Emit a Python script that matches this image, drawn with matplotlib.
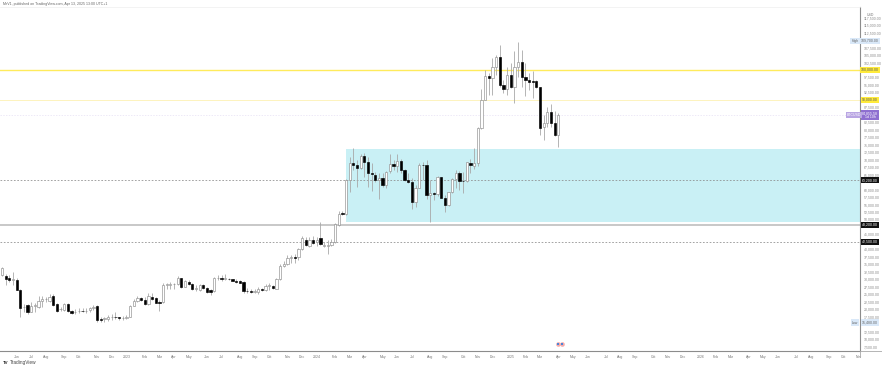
import matplotlib
matplotlib.use("Agg")
import matplotlib.pyplot as plt
import numpy as np
import pandas as pd
from matplotlib.lines import Line2D
from matplotlib.transforms import blended_transform_factory

plt.rcParams['font.family'] = ['Liberation Sans', 'DejaVu Sans']

# weekly OHLC in thousands of USD
opens = [31.5,31.2,30.3,29.7,29.9,26.5,20.6,21.4,19.2,21.2,20.6,22.9,23.3,22.8,24.5,21.6,19.9,19.6,21.9,19.4,
         19.0,19.3,19.5,19.3,19.6,20.4,21.2,16.6,16.7,16.8,17.4,17.5,17.3,17.0,17.2,17.5,21.2,22.8,23.9,23.1,
         21.7,24.2,23.6,22.4,22.4,28.1,28.1,28.3,28.4,30.3,27.5,29.2,28.4,26.7,26.4,28.1,27.0,26.4,26.1,30.3,
         30.6,30.2,30.2,30.0,29.5,29.5,29.2,26.2,26.1,25.9,25.9,26.7,26.4,27.8,27.8,26.9,30.0,34.6,35.0,37.1,
         37.4,37.4,40.1,43.1,41.3,43.1,42.5,43.9,41.2,41.0,41.6,42.5,48.2,52.1,51.8,63.2,68.8,68.2,67.1,71.2,
         69.3,65.7,64.9,63.2,64.0,61.5,66.1,68.4,67.9,69.6,66.5,63.2,62.6,55.8,60.7,68.2,68.2,58.2,58.7,58.5,
         64.1,57.2,54.7,59.1,63.4,65.4,63.0,62.9,69.0,67.9,68.8,80.5,90.0,98.0,97.2,101.1,104.5,95.0,93.6,98.3,
         94.4,101.1,102.6,97.8,96.5,96.3,96.3,94.2,80.8,82.4,86.1,82.4,78.3]
highs = [34.2,31.7,31.5,32.3,30.3,26.8,21.6,21.6,22.3,22.0,24.5,24.5,24.2,25.0,25.0,22.0,20.9,22.1,22.2,19.7,
         20.1,20.5,20.3,20.3,20.9,21.4,21.4,17.5,17.5,17.9,18.3,18.9,17.5,17.6,18.1,21.4,23.5,24.5,24.2,24.2,
         25.3,25.3,24.2,23.1,28.7,28.9,29.1,28.9,31.1,30.6,29.8,29.8,28.7,28.1,28.4,28.4,27.3,26.7,30.9,31.4,
         31.4,31.8,30.6,30.2,30.0,29.8,29.4,27.0,26.7,26.7,27.3,27.0,28.3,28.7,28.1,30.3,35.0,36.1,38.1,38.1,
         38.5,40.4,44.5,44.0,44.0,44.5,44.0,49.2,42.5,43.0,43.5,48.7,52.8,53.0,63.5,71.0,73.8,69.9,71.9,72.1,
         71.0,68.8,66.0,65.4,65.4,66.3,71.9,69.9,71.9,70.1,66.8,65.4,63.8,61.5,68.8,69.3,69.9,63.2,59.3,64.5,
         64.3,58.2,59.3,63.8,66.5,66.3,66.0,69.3,70.4,73.8,81.0,93.6,100.0,99.1,103.9,105.0,108.4,96.7,101.1,102.2,
         106.2,109.2,106.7,102.2,99.1,99.5,96.7,94.4,85.0,87.5,88.6,86.4,85.5]
lows = [31.2,28.1,29.2,28.1,26.4,17.5,19.2,18.5,19.0,19.2,20.5,20.9,22.3,22.5,21.2,19.2,19.4,19.4,19.2,18.3,
        18.3,18.6,18.9,18.6,19.0,19.7,15.8,15.8,15.6,16.1,16.4,16.7,16.4,16.4,16.7,17.3,21.0,22.5,22.9,21.4,
        21.4,23.1,22.0,19.4,22.2,26.7,26.7,26.9,28.1,27.0,27.3,28.1,26.4,26.2,26.1,26.7,25.5,24.8,25.9,29.8,
        29.5,29.8,29.8,29.3,28.7,28.7,25.3,25.3,25.3,25.3,25.1,26.2,26.1,26.4,26.7,26.7,29.8,34.2,34.8,35.3,
        35.6,36.5,39.8,41.0,40.8,41.8,41.0,41.5,40.8,38.6,41.2,42.3,47.9,51.4,51.5,59.3,66.5,61.0,66.8,64.1,
        61.0,59.6,62.6,56.7,61.0,60.7,65.4,66.5,66.0,65.4,63.0,62.1,53.5,54.3,60.4,63.2,56.7,49.2,56.5,57.9,
        57.1,52.6,54.5,58.7,60.4,59.9,59.0,62.5,65.4,66.8,68.0,80.3,89.8,91.7,91.7,98.3,94.4,92.2,91.7,93.9,
        89.1,97.8,94.4,91.3,93.3,90.5,93.9,78.3,76.6,80.8,80.8,77.9,74.4]
closes = [33.9,30.1,29.7,30.1,26.5,20.5,20.9,18.9,21.0,21.4,22.8,23.3,23.4,24.2,21.4,19.4,20.1,21.9,19.4,18.6,
          19.2,19.5,19.3,19.5,20.3,20.6,16.4,16.4,17.0,17.3,17.5,17.3,17.1,17.2,17.5,21.2,22.8,23.9,23.1,21.7,
          24.4,23.4,22.2,22.2,28.1,28.3,28.3,28.5,30.6,27.3,29.4,28.4,26.9,27.0,28.1,27.2,25.9,25.8,30.3,30.6,
          30.2,30.4,30.1,29.5,29.0,28.9,26.0,26.0,25.9,26.1,26.7,26.4,27.9,28.1,27.0,30.0,34.6,35.1,37.0,37.4,
          37.1,40.0,43.8,41.5,43.0,42.2,43.0,41.8,41.6,41.6,42.4,48.4,52.0,51.7,63.2,69.0,68.3,67.3,71.2,69.3,
          65.7,65.1,63.2,64.0,61.5,66.0,68.4,67.9,69.6,66.5,63.2,62.6,56.0,60.7,68.2,68.1,58.2,58.7,58.4,64.1,
          57.3,54.8,59.1,63.4,65.4,62.8,62.8,69.1,68.1,68.8,80.5,90.0,98.0,97.2,101.1,104.5,95.0,93.6,98.3,94.4,
          101.1,102.6,97.8,96.5,96.0,96.1,94.2,80.7,82.4,86.1,82.4,78.3,85.0]

first_week = "2022-05-09"
last_axis_week = "2026-11-30"
zone_start_week = "2024-02-26"
zone_top, zone_bottom = 73.7, 49.2
yellow_levels = [100.0, 90.0]
dashed_levels = [63.2, 42.5]
solid_level = 48.2
last_price, high_price, low_price = 84.86, 109.7, 15.48
tick_values = np.arange(7.5, 118, 2.5)

n = min(len(opens), len(highs), len(lows), len(closes))
o, h, l, c = [np.array(a[:n]) * 1000 for a in (opens, highs, lows, closes)]
idx = np.arange(n)

fig = plt.figure(figsize=(8.82, 3.68), dpi=100)
ax = fig.add_axes([0, 17 / 368, 860 / 882, 344 / 368])
ax.set_xlim(-0.546, 234.43)
ax.set_ylim(6020, 121070)
for s in ('left', 'top'):
    ax.spines[s].set_visible(False)
ax.spines['right'].set_color('#8c8c8c')
ax.spines['bottom'].set_color('#8c8c8c')
ax.spines['right'].set_linewidth(0.8)
ax.spines['bottom'].set_linewidth(0.8)

# zone and levels
weeks = pd.date_range(first_week, last_axis_week, freq='7D')
zone_i = weeks.get_loc(pd.Timestamp(zone_start_week))
ax.axhspan(zone_bottom * 1000, zone_top * 1000, xmin=(zone_i + 0.546) / 234.976, color='#c9f0f5', lw=0, zorder=1)
ax.axhline(yellow_levels[0] * 1000, color='#ffeb5c', lw=1.0, zorder=1.5)
ax.axhline(yellow_levels[1] * 1000, color='#fdf3bd', lw=0.7, zorder=1.5)
ax.axhline(last_price * 1000, color='#e6e0f4', lw=0.5, ls=(0, (2, 2)), zorder=1.5)
for lv in dashed_levels:
    ax.axhline(lv * 1000, color='#8a8a8a', lw=0.55, ls=(0, (2.2, 2.2)), zorder=1.5)
ax.axhline(solid_level * 1000, color='#c4c4c4', lw=1.3, zorder=1.5)

# candles
ax.vlines(idx, l, h, color='#a8a8a8', lw=0.6, zorder=2)
up = c >= o
ax.bar(idx[up], (c - o)[up], bottom=o[up], width=0.62, facecolor='white', edgecolor='#8e8e8e', lw=0.45, zorder=3)
ax.bar(idx[~up], (o - c)[~up], bottom=c[~up], width=0.62, facecolor='black', edgecolor='black', lw=0.45, zorder=3)

# time axis labels from the weekly calendar
tick_pos, tick_lab = [], []
prev = None
for i, d in enumerate(weeks):
    if prev is not None and d.month != prev:
        tick_pos.append(i)
        tick_lab.append(str(d.year) if d.month == 1 else d.strftime('%b'))
    prev = d.month
ax.set_xticks(tick_pos, tick_lab)
ax.tick_params(axis='x', length=0, labelsize=2.5, labelcolor='#777777', pad=2.6)

# price axis: tags sit where the plain labels would be
tag_levels = yellow_levels + dashed_levels + [solid_level, high_price, low_price]
shown = [v for v in tick_values
         if all(abs(v - t) >= 1.7 for t in tag_levels) and abs(v - last_price) >= 2.2]
ax.yaxis.tick_right()
ax.set_yticks(np.array(shown) * 1000, [f"{v * 1000:,.2f}" for v in shown])
ax.tick_params(axis='y', length=0, labelsize=2.5, labelcolor='#8a8a8a', pad=3)

tr = blended_transform_factory(ax.transAxes, ax.transData)
xlab = 1 + 10 / 860
def tag(val, txt, bg, fg, x=xlab, ha='center', fs=2.5):
    ax.text(x, val, txt, transform=tr, ha=ha, va='center', fontsize=fs, color=fg, clip_on=False, zorder=6,
            bbox=dict(boxstyle='square,pad=0.35', fc=bg, ec='none'))

tag(yellow_levels[0] * 1000, "100,000.00", '#ffeb3b', '#555555')
tag(yellow_levels[1] * 1000, "90,000.00", '#ffeb3b', '#555555')
tag(dashed_levels[0] * 1000, "63,200.00", '#111111', 'white')
tag(solid_level * 1000, "48,200.00", '#111111', 'white')
tag(dashed_levels[1] * 1000, "42,500.00", '#111111', 'white')
tag(high_price * 1000, "109,700.00", '#d9e8f8', '#666666')
tag(high_price * 1000, "High", '#d9e8f8', '#666666', x=1 - 5 / 860)
tag(low_price * 1000, "15,480.00", '#d9e8f8', '#666666')
tag(low_price * 1000, "Low", '#d9e8f8', '#666666', x=1 - 5 / 860)
ax.text(xlab, last_price * 1000, "84,855.58\n1d 10h", transform=tr, ha='center', va='center', fontsize=2.5,
        color='white', linespacing=1.0, clip_on=False, zorder=6,
        bbox=dict(boxstyle='square,pad=0.25', fc='#8e6fd0', ec='none'))
tag(last_price * 1000, "BTCUSD", '#b9a5e3', 'white', x=1 - 6 / 860)
ax.text(xlab, 118400, "USD", transform=tr, ha='center', va='center', fontsize=2.5, color='#777777', clip_on=False)

# event markers at the latest bar
ax.scatter([n - 1.2, n + 0.0], [8300, 8300], s=11, color='#f6a9a9', lw=0, zorder=5)
ax.scatter([n - 1.2, n + 0.0], [8300, 8300], s=2.5, color='#4a86d8', marker='s', lw=0, zorder=6)

# pane frame and extensions
fig.add_artist(Line2D([860 / 882, 1], [17 / 368, 17 / 368], color='#a8a8a8', lw=0.6))
fig.add_artist(Line2D([860 / 882, 860 / 882], [11 / 368, 17 / 368], color='#a8a8a8', lw=0.6))
fig.add_artist(Line2D([0, 860 / 882], [361 / 368, 361 / 368], color='#efefef', lw=0.5))

fig.text(3 / 882, 1 - 4 / 368, "MrV1, published on TradingView.com, Apr 13, 2025 13:00 UTC+1", fontsize=2.6,
         color='#666666', va='center', ha='left')
fig.text(10 / 882, 1 - 362.5 / 368, "TradingView", fontsize=3.4, color='#444444', va='center', ha='left')
fig.text(3 / 882, 1 - 362.5 / 368, "TV", fontsize=3.2, color='#222222', va='center', ha='left', fontweight='bold')

fig.savefig("out.png", dpi=100)
